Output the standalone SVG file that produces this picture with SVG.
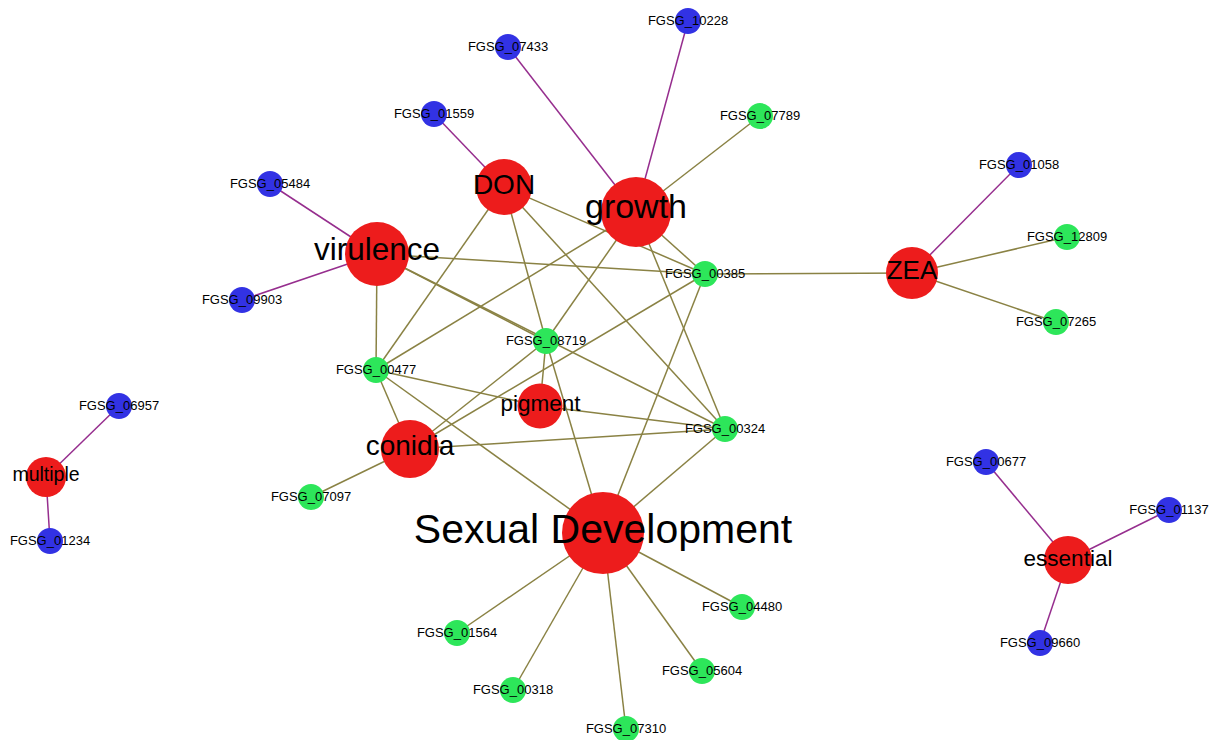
<svg xmlns="http://www.w3.org/2000/svg" width="1218" height="740" viewBox="0 0 1218 740">
<style>
  .bg{fill:#ffffff}
  .ep{stroke:#962e8e;stroke-width:1.5;fill:none}
  .eo{stroke:#8a8244;stroke-width:1.5;fill:none}
  .red{fill:#ed1c1c}
  .grn{fill:#2de65a}
  .blu{fill:#3232e4}
  text{font-family:"Liberation Sans",Arial,sans-serif;fill:#000;text-anchor:middle}
  .g{font-size:13px}
</style>
<rect class="bg" x="0" y="0" width="1218" height="740"/>
<g id="connectors">
  <!-- purple: blue gene to phenotype -->
  <line class="ep" x1="688" y1="21" x2="636" y2="212"/>
  <line class="ep" x1="508" y1="47" x2="636" y2="212"/>
  <line class="ep" x1="434" y1="114" x2="504" y2="187"/>
  <line class="ep" x1="270" y1="184" x2="377" y2="254"/>
  <line class="ep" x1="242" y1="300" x2="377" y2="254"/>
  <line class="ep" x1="1019" y1="165" x2="912" y2="273"/>
  <line class="ep" x1="119" y1="406" x2="46" y2="477"/>
  <line class="ep" x1="50" y1="541" x2="46" y2="477"/>
  <line class="ep" x1="986" y1="462" x2="1068" y2="560"/>
  <line class="ep" x1="1169" y1="510" x2="1068" y2="560"/>
  <line class="ep" x1="1040" y1="643" x2="1068" y2="560"/>
  <!-- olive: green gene to phenotype -->
  <line class="eo" x1="760" y1="116" x2="636" y2="212"/>
  <line class="eo" x1="1067" y1="237" x2="912" y2="273"/>
  <line class="eo" x1="1056" y1="322" x2="912" y2="273"/>
  <line class="eo" x1="705" y1="274" x2="912" y2="273"/>
  <line class="eo" x1="705" y1="274" x2="636" y2="212"/>
  <line class="eo" x1="705" y1="274" x2="377" y2="254"/>
  <line class="eo" x1="705" y1="274" x2="504" y2="187"/>
  <line class="eo" x1="705" y1="274" x2="410" y2="449"/>
  <line class="eo" x1="705" y1="274" x2="603" y2="533"/>
  <line class="eo" x1="546" y1="341" x2="504" y2="187"/>
  <line class="eo" x1="546" y1="341" x2="636" y2="212"/>
  <line class="eo" x1="546" y1="341" x2="377" y2="254"/>
  <line class="eo" x1="546" y1="341" x2="540" y2="406"/>
  <line class="eo" x1="546" y1="341" x2="603" y2="533"/>
  <line class="eo" x1="546" y1="341" x2="410" y2="449"/>
  <line class="eo" x1="376" y1="370" x2="377" y2="254"/>
  <line class="eo" x1="376" y1="370" x2="504" y2="187"/>
  <line class="eo" x1="376" y1="370" x2="636" y2="212"/>
  <line class="eo" x1="376" y1="370" x2="540" y2="406"/>
  <line class="eo" x1="376" y1="370" x2="410" y2="449"/>
  <line class="eo" x1="376" y1="370" x2="603" y2="533"/>
  <line class="eo" x1="725" y1="429" x2="504" y2="187"/>
  <line class="eo" x1="725" y1="429" x2="636" y2="212"/>
  <line class="eo" x1="725" y1="429" x2="377" y2="254"/>
  <line class="eo" x1="725" y1="429" x2="540" y2="406"/>
  <line class="eo" x1="725" y1="429" x2="410" y2="449"/>
  <line class="eo" x1="725" y1="429" x2="603" y2="533"/>
  <line class="eo" x1="311" y1="497" x2="410" y2="449"/>
  <line class="eo" x1="457" y1="633" x2="603" y2="533"/>
  <line class="eo" x1="513" y1="690" x2="603" y2="533"/>
  <line class="eo" x1="626" y1="729" x2="603" y2="533"/>
  <line class="eo" x1="702" y1="671" x2="603" y2="533"/>
  <line class="eo" x1="742" y1="607" x2="603" y2="533"/>
</g>
<g id="n-FGSG_10228"><circle class="blu" cx="688" cy="21" r="13"/><text class="g" x="688" y="25">FGSG_10228</text></g>
<g id="n-FGSG_07433"><circle class="blu" cx="508" cy="47" r="13"/><text class="g" x="508" y="51">FGSG_07433</text></g>
<g id="n-FGSG_01559"><circle class="blu" cx="434" cy="114" r="13"/><text class="g" x="434" y="118">FGSG_01559</text></g>
<g id="n-FGSG_05484"><circle class="blu" cx="270" cy="184" r="13"/><text class="g" x="270" y="188">FGSG_05484</text></g>
<g id="n-FGSG_09903"><circle class="blu" cx="242" cy="300" r="13"/><text class="g" x="242" y="304">FGSG_09903</text></g>
<g id="n-FGSG_01058"><circle class="blu" cx="1019" cy="165" r="13"/><text class="g" x="1019" y="169">FGSG_01058</text></g>
<g id="n-FGSG_06957"><circle class="blu" cx="119" cy="406" r="13"/><text class="g" x="119" y="410">FGSG_06957</text></g>
<g id="n-FGSG_01234"><circle class="blu" cx="50" cy="541" r="13"/><text class="g" x="50" y="545">FGSG_01234</text></g>
<g id="n-FGSG_00677"><circle class="blu" cx="986" cy="462" r="13"/><text class="g" x="986" y="466">FGSG_00677</text></g>
<g id="n-FGSG_01137"><circle class="blu" cx="1169" cy="510" r="13"/><text class="g" x="1169" y="514">FGSG_01137</text></g>
<g id="n-FGSG_09660"><circle class="blu" cx="1040" cy="643" r="13"/><text class="g" x="1040" y="647">FGSG_09660</text></g>
<g id="n-FGSG_07789"><circle class="grn" cx="760" cy="116" r="13"/><text class="g" x="760" y="120">FGSG_07789</text></g>
<g id="n-FGSG_12809"><circle class="grn" cx="1067" cy="237" r="13"/><text class="g" x="1067" y="241">FGSG_12809</text></g>
<g id="n-FGSG_07265"><circle class="grn" cx="1056" cy="322" r="13"/><text class="g" x="1056" y="326">FGSG_07265</text></g>
<g id="n-FGSG_00385"><circle class="grn" cx="705" cy="274" r="13"/><text class="g" x="705" y="278">FGSG_00385</text></g>
<g id="n-FGSG_08719"><circle class="grn" cx="546" cy="341" r="13"/><text class="g" x="546" y="345">FGSG_08719</text></g>
<g id="n-FGSG_00477"><circle class="grn" cx="376" cy="370" r="13"/><text class="g" x="376" y="374">FGSG_00477</text></g>
<g id="n-FGSG_00324"><circle class="grn" cx="725" cy="429" r="13"/><text class="g" x="725" y="433">FGSG_00324</text></g>
<g id="n-FGSG_07097"><circle class="grn" cx="311" cy="497" r="13"/><text class="g" x="311" y="501">FGSG_07097</text></g>
<g id="n-FGSG_01564"><circle class="grn" cx="457" cy="633" r="13"/><text class="g" x="457" y="637">FGSG_01564</text></g>
<g id="n-FGSG_00318"><circle class="grn" cx="513" cy="690" r="13"/><text class="g" x="513" y="694">FGSG_00318</text></g>
<g id="n-FGSG_07310"><circle class="grn" cx="626" cy="729" r="13"/><text class="g" x="626" y="733">FGSG_07310</text></g>
<g id="n-FGSG_05604"><circle class="grn" cx="702" cy="671" r="13"/><text class="g" x="702" y="675">FGSG_05604</text></g>
<g id="n-FGSG_04480"><circle class="grn" cx="742" cy="607" r="13"/><text class="g" x="742" y="611">FGSG_04480</text></g>
<g id="n-DON"><circle class="red" cx="504" cy="187" r="28"/><text x="504" y="194" style="font-size:28px">DON</text></g>
<g id="n-growth"><circle class="red" cx="636" cy="212" r="35"/><text x="636" y="218" style="font-size:34px">growth</text></g>
<g id="n-virulence"><circle class="red" cx="377" cy="254" r="32"/><text x="377" y="260" style="font-size:31.5px">virulence</text></g>
<g id="n-ZEA"><circle class="red" cx="912" cy="273" r="26"/><text x="912" y="279" style="font-size:26px">ZEA</text></g>
<g id="n-pigment"><circle class="red" cx="540" cy="406" r="22.5"/><text x="540.5" y="411" style="font-size:22.5px">pigment</text></g>
<g id="n-conidia"><circle class="red" cx="410" cy="449" r="29"/><text x="410" y="455" style="font-size:28px">conidia</text></g>
<g id="n-multiple"><circle class="red" cx="46" cy="477" r="20"/><text x="46" y="481" style="font-size:19.5px">multiple</text></g>
<g id="n-essential"><circle class="red" cx="1068" cy="560" r="24"/><text x="1068" y="566" style="font-size:22.5px">essential</text></g>
<g id="n-SexualDevelopment"><circle class="red" cx="603" cy="533" r="41"/><text x="603" y="543" style="font-size:41px">Sexual Development</text></g>
</svg>
